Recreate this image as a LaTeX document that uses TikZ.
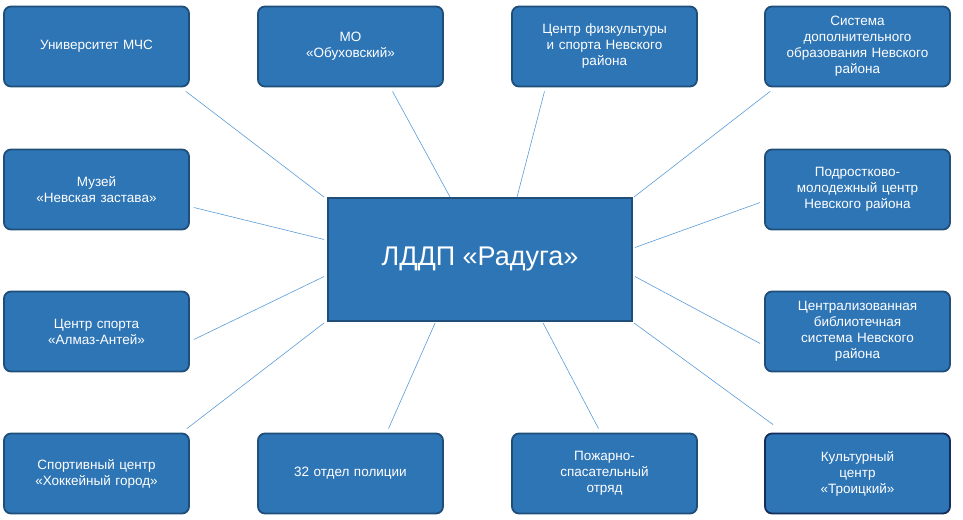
\documentclass[tikz,border=0pt]{standalone}
\usepackage{fontspec}
\setmainfont{Liberation Sans}
\begin{document}
\begin{tikzpicture}[x=1pt,y=-1pt,
  box/.style={draw=boxedge,line width=1.8pt,fill=boxfill,rounded corners=7pt,minimum width=185pt,minimum height=80pt,text width=175pt,align=center,text=white,font=\fontsize{13.5}{16}\selectfont},
  link/.style={draw=linkc,line width=0.6pt}]
\definecolor{boxfill}{HTML}{2E75B6}
\definecolor{boxedge}{HTML}{1F4E79}
\definecolor{darkedge}{HTML}{152D5A}
\definecolor{linkc}{HTML}{5B9BD5}
\useasboundingbox (0,0) rectangle (963,519);
\node[draw=boxedge,line width=1.8pt,fill=boxfill,minimum width=304pt,minimum height=123pt,text=white,font=\fontsize{27}{32}\selectfont] (c) at (480,259.5) {ЛДДП «Радуга»};
\node[box] (b1) at (96.5,46.5) {Университет  МЧС};
\node[box] (b2) at (350.5,46.5) {МО\\«Обуховский»};
\node[box] (b3) at (604.5,46.5) {Центр физкультуры\\и спорта Невского\\района};
\node[box] (b4) at (857.5,46.5) {Система\\дополнительного\\образования  Невского\\района};
\node[box] (b5) at (96.5,189.5) {Музей\\«Невская  застава»};
\node[box] (b6) at (857.5,189.5) {Подростково-\\молодежный  центр\\Невского  района};
\node[box] (b7) at (96.5,331.5) {Центр спорта\\«Алмаз-Антей»};
\node[box] (b8) at (857.5,331.5) {Централизованная\\библиотечная\\система Невского\\района};
\node[box] (b9) at (96.5,473.5) {Спортивный  центр\\«Хоккейный  город»};
\node[box] (b10) at (350.5,473.5) {32 отдел полиции};
\node[box] (b11) at (604.5,473.5) {Пожарно-\\спасательный\\отряд};
\node[box,draw=darkedge] (b12) at (857.5,473.5) {Культурный\\центр\\«Троицкий»};
\path[link] ([shift={(-4,4)}]b1.south east) -- ([shift={(-3,0)}]c.north west);
\path[link] ([shift={(42,4)}]b2.south) -- ([shift={(123,0)}]c.north west);
\path[link] ([shift={(-60,4)}]b3.south) -- ([shift={(37,0)}]c.north);
\path[link] ([shift={(6,4)}]b4.south west) -- ([shift={(1,0)}]c.north east);
\path[link] ([shift={(4,18)}]b5.east) -- ([shift={(-3,-20)}]c.west);
\path[link] ([shift={(-4,13)}]b6.west) -- ([shift={(2,-12)}]c.east);
\path[link] ([shift={(4,8)}]b7.east) -- ([shift={(-3,17)}]c.west);
\path[link] ([shift={(-4,12)}]b8.west) -- ([shift={(2,17)}]c.east);
\path[link] ([shift={(-3,-4)}]b9.north east) -- ([shift={(-3,1)}]c.south west);
\path[link] ([shift={(38,-4)}]b10.north) -- ([shift={(108,1)}]c.south west);
\path[link] ([shift={(-6,-4)}]b11.north) -- ([shift={(63,1)}]c.south);
\path[link] ([shift={(9,-8)}]b12.north west) -- ([shift={(1,1)}]c.south east);
\end{tikzpicture}
\end{document}
